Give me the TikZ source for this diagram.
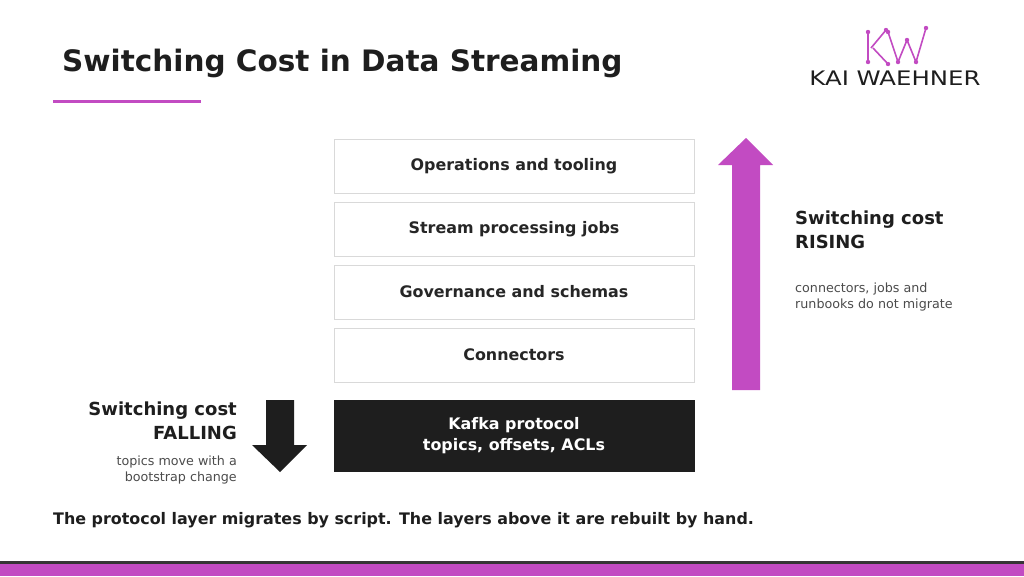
\documentclass[tikz,border=0pt]{standalone}
\usepackage{fontspec}
\setmainfont{DejaVu Sans}
\begin{document}
\begin{tikzpicture}[x=1pt,y=-1pt,
  layer/.style={draw=black!15,line width=1pt,fill=white,minimum width=360pt,minimum height=54pt,font=\bfseries\fontsize{15.9}{18}\selectfont,text=black!85},
]
\definecolor{kw}{HTML}{C24BC2}
\definecolor{dk}{HTML}{1E1E1E}
\useasboundingbox (0,0) rectangle (1024,576);
\fill[white] (0,0) rectangle (1024,576);
\node[anchor=west,inner sep=0pt,font=\bfseries\fontsize{29.5}{34}\selectfont,text=dk] (title) at (62,63) {Switching Cost in Data Streaming};
\fill[kw] (53,99.5) rectangle (201,103);
% logo
\begin{scope}[kw,line width=1.6pt]
\draw (868,32) -- (868,62) (871,48) -- (886,30) (873,48) -- (888,64);
\draw (888,32) -- (898,62) -- (907,40) -- (916,62) -- (926,28);
\foreach \p in {(868,32),(868,62),(886,30),(888,64),(898,62),(916,62),(926,28),(907,40),(888,32)} \fill \p circle (2.2);
\end{scope}
\node[font=\fontsize{20}{22}\selectfont,text=dk,inner sep=0pt,xscale=1.22] (logo) at (895,78) {KAI WAEHNER};
% layers
\node[layer] (l1) at (514,166) {Operations and tooling};
\node[layer] (l2) at (514,229) {Stream processing jobs};
\node[layer] (l3) at (514,292) {Governance and schemas};
\node[layer] (l4) at (514,355) {Connectors};
\node[fill=dk,minimum width=361pt,minimum height=72pt,text=white,align=center,font=\bfseries\fontsize{15.9}{21}\selectfont] (kp) at (514,435.5) {Kafka protocol\\topics, offsets, ACLs};
% arrows
\fill[kw] (732,390) -- (760,390) -- (760,165) -- (773,165) -- (746,138) -- (718,165) -- (732,165) -- cycle;
\fill[dk] (266,400) -- (294,400) -- (294,445) -- (307,445) -- (280,472) -- (252,445) -- (266,445) -- cycle;
\node[anchor=north west,align=left,inner sep=0pt,font=\bfseries\fontsize{18}{24}\selectfont,text=dk] (rise) at (795,211) {Switching cost\\RISING};
\node[anchor=north west,align=left,inner sep=0pt,font=\fontsize{12.7}{16}\selectfont,text=black!70] (risen) at (795,283) {connectors, jobs and\\runbooks do not migrate};
\node[anchor=north east,align=right,inner sep=0pt,font=\bfseries\fontsize{18}{24}\selectfont,text=dk] (fall) at (237,402) {Switching cost\\FALLING};
\node[anchor=north east,align=right,inner sep=0pt,font=\fontsize{12.7}{16}\selectfont,text=black!70] (falln) at (237,456) {topics move with a\\bootstrap change};
\node[anchor=west,inner sep=0pt,font=\bfseries\fontsize{15.9}{18}\selectfont,text=dk] (foot) at (53,520) {The protocol layer migrates by script. The layers above it are rebuilt by hand.};
\fill[dk!90] (0,561) rectangle (1024,563.5);
\fill[kw] (0,563.5) rectangle (1024,576);
\end{tikzpicture}
\end{document}
